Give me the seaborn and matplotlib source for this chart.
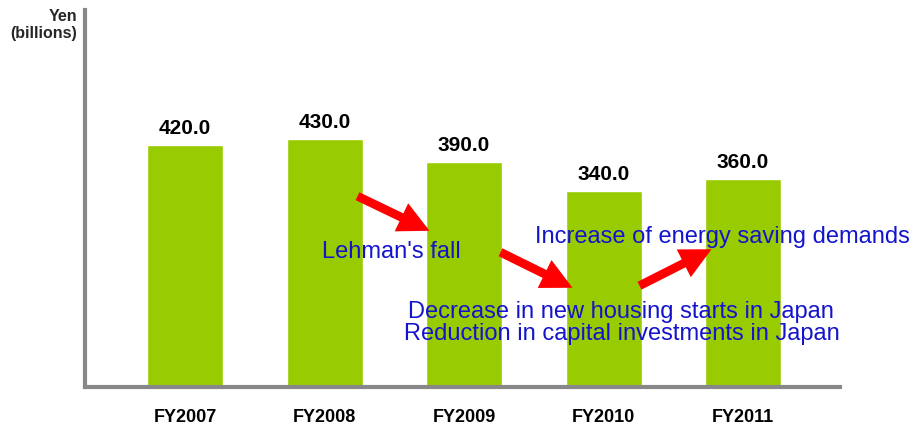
import matplotlib
matplotlib.use("Agg")
import matplotlib.pyplot as plt
import seaborn as sns

# Chart data
years = ["FY2007", "FY2008", "FY2009", "FY2010", "FY2011"]
sales = [420.0, 430.0, 390.0, 340.0, 360.0]

sns.set_style("white")
plt.rcParams['font.family'] = ['Liberation Sans', 'DejaVu Sans']

W, H = 919, 430
fig = plt.figure(figsize=(W / 100, H / 100), dpi=100)
ax = fig.add_axes([85 / W, 1 - 387 / H, (840 - 85) / W, (387 - 10) / H])


def px(x, y):
    # figure pixel position -> figure fraction
    return (x / W, 1 - y / H)


sns.barplot(x=years, y=sales, color="#99cc00", saturation=1, width=0.545, ax=ax)

ax.set_xlim(-0.717, 4.695)
ax.set_ylim(0, 653)
ax.set_xlabel("")
ax.set_ylabel("")
ax.set_yticks([])
ax.tick_params(axis="x", length=0, pad=16, labelsize=13, labelcolor="black")
for lbl in ax.get_xticklabels():
    lbl.set_fontweight("bold")

for side in ["top", "right"]:
    ax.spines[side].set_visible(False)
for side in ["left", "bottom"]:
    ax.spines[side].set_color("#888888")
    ax.spines[side].set_linewidth(3)

# value labels above bars
for i, v in enumerate(sales):
    ax.text(i, v + 19, f"{v:.1f}", ha="center", va="baseline",
            fontsize=15, fontweight="bold", color="black")

# axis unit label
fig.text(*px(77, 9), "Yen\n(billions)", ha="right", va="top",
         fontsize=11.5, fontweight="bold", linespacing=1.15)

# red arrows
arrows = [((355, 195), (432, 232)),
          ((498, 251), (575, 289)),
          ((637, 287), (714, 248))]
for tail, tip in arrows:
    fig.add_artist(matplotlib.patches.FancyArrowPatch(
        px(*tail), px(*tip), transform=fig.transFigure,
        arrowstyle="simple,head_length=1.6,head_width=1.6,tail_width=0.45",
        mutation_scale=14, color="red", lw=0, zorder=5))

# blue annotations (centre x, baseline y in pixels)
blue = "#1414cc"
notes = [("Lehman's fall", (391, 258)),
         ("Increase of energy saving demands", (722, 243)),
         ("Decrease in new housing starts in Japan", (621, 318)),
         ("Reduction in capital investments in Japan", (622, 340))]
for txt, pos in notes:
    fig.text(*px(*pos), txt, ha="center", va="baseline", fontsize=17,
             color=blue, zorder=6)

fig.savefig("out.png", dpi=100)
